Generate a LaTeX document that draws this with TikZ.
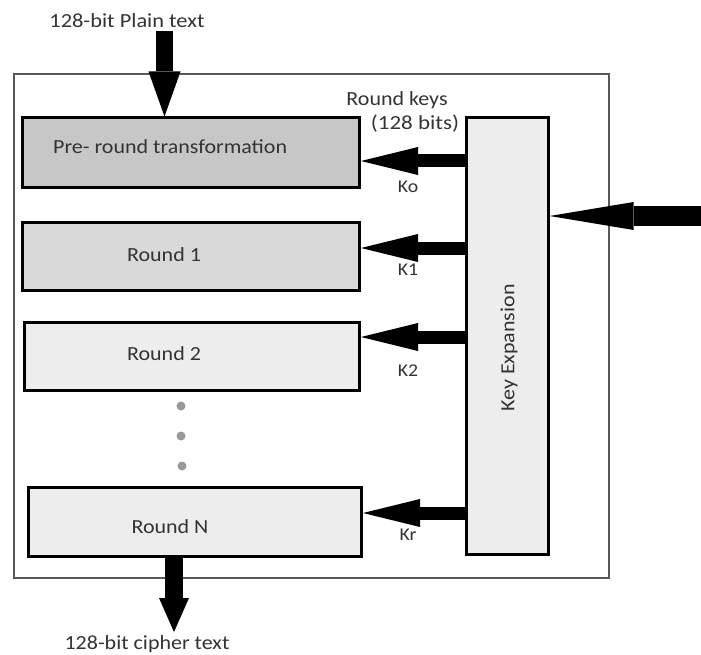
\documentclass[tikz,border=0pt]{standalone}
\usepackage{fontspec}
\usepackage{graphicx}
\setmainfont{Carlito}
\usetikzlibrary{arrows.meta}
\newcommand{\widetxt}[2][1.1]{\scalebox{#1}[1]{#2}}
\begin{document}
\begin{tikzpicture}[x=1pt,y=-1pt,
  lbl/.style={font=\fontsize{20}{24}\selectfont, text=black!80, inner sep=0pt},
  klbl/.style={font=\fontsize{18}{21}\selectfont, text=black!80, inner sep=0pt},
  roundbox/.style={draw=black, line width=3pt, inner sep=0pt},
  keyarrow/.style={line width=13pt, -{Triangle[length=57pt,width=28pt,line width=0pt]}},
  dot/.style={circle, fill=gray!80, inner sep=0pt, minimum size=9pt}]
\useasboundingbox (0,0) rectangle (701,655);
% outer frame
\node[draw=gray!70!black, line width=1.5pt, minimum width=595pt, minimum height=504pt, inner sep=0pt] (outer) at (311.5,326) {};
% boxes
\node[roundbox, fill=black!22, minimum width=337pt, minimum height=70pt] (pre) at (191,153) {};
\node[lbl, anchor=west] (pretxt) at (53,147) {\widetxt{Pre- round transformation}};
\node[roundbox, fill=black!15, minimum width=337pt, minimum height=68pt] (r1) at (191,256) {};
\node[lbl] (r1t) at (164,255) {\widetxt{Round 1}};
\node[roundbox, fill=black!7, minimum width=335pt, minimum height=68pt] (r2) at (192,356) {};
\node[lbl] (r2t) at (164,354) {\widetxt{Round 2}};
\node[roundbox, fill=black!7, minimum width=333pt, minimum height=69pt] (rn) at (195,522) {};
\node[lbl] (rnt) at (170,527) {\widetxt{Round N}};
\node[roundbox, fill=black!7, minimum width=82pt, minimum height=437pt] (ke) at (507,336) {};
\node[lbl, rotate=90] (ket) at (509,348) {\widetxt{Key Expansion}};
% dots
\node[dot] (d1) at (181,406) {};
\node[dot] (d2) at (181,436) {};
\node[dot] (d3) at (182,466) {};
% key arrows
\coordinate (k0s) at (465,161);
\coordinate (k1s) at (465,248);
\coordinate (k2s) at (465,337);
\coordinate (krs) at (465,513);
\draw[keyarrow] (k0s) -- (pre.east |- k0s);
\draw[keyarrow] (k1s) -- (r1.east |- k1s);
\draw[keyarrow] (k2s) -- (r2.east |- k2s);
\draw[keyarrow] (krs) -- (rn.east |- krs);
% key input
\coordinate (kin) at (701,216);
\draw[line width=20pt, -{Triangle[length=84pt,width=28pt,line width=0pt]}] (kin) -- (ke.east |- kin);
% plain text
\node[lbl] (pt) at (127,21) {\widetxt[1.12]{128-bit Plain text}};
\coordinate (pts) at (164.5,31);
\draw[line width=17pt, -{Triangle[length=45pt,width=32pt,line width=0pt]}] (pts) -- (pts |- pre.north);
% cipher
\coordinate (cs) at (174,558);
\coordinate (ce) at (174,632);
\draw[line width=18pt, -{Triangle[length=34pt,width=30pt,line width=0pt]}] (cs) -- (ce);
\node[lbl] (ct) at (147,644) {\widetxt{128-bit cipher text}};
% labels
\node[lbl] (rk) at (397,100) {\widetxt{Round keys}};
\node[lbl] (rkb) at (415,124) {\widetxt[1.15]{(128 bits)}};
\node[klbl] (ko) at (408,187) {\widetxt{Ko}};
\node[klbl] (ka) at (408,270) {\widetxt{K1}};
\node[klbl] (kb) at (408,371) {\widetxt{K2}};
\node[klbl] (kc) at (408,535) {\widetxt{Kr}};
\end{tikzpicture}
\end{document}
